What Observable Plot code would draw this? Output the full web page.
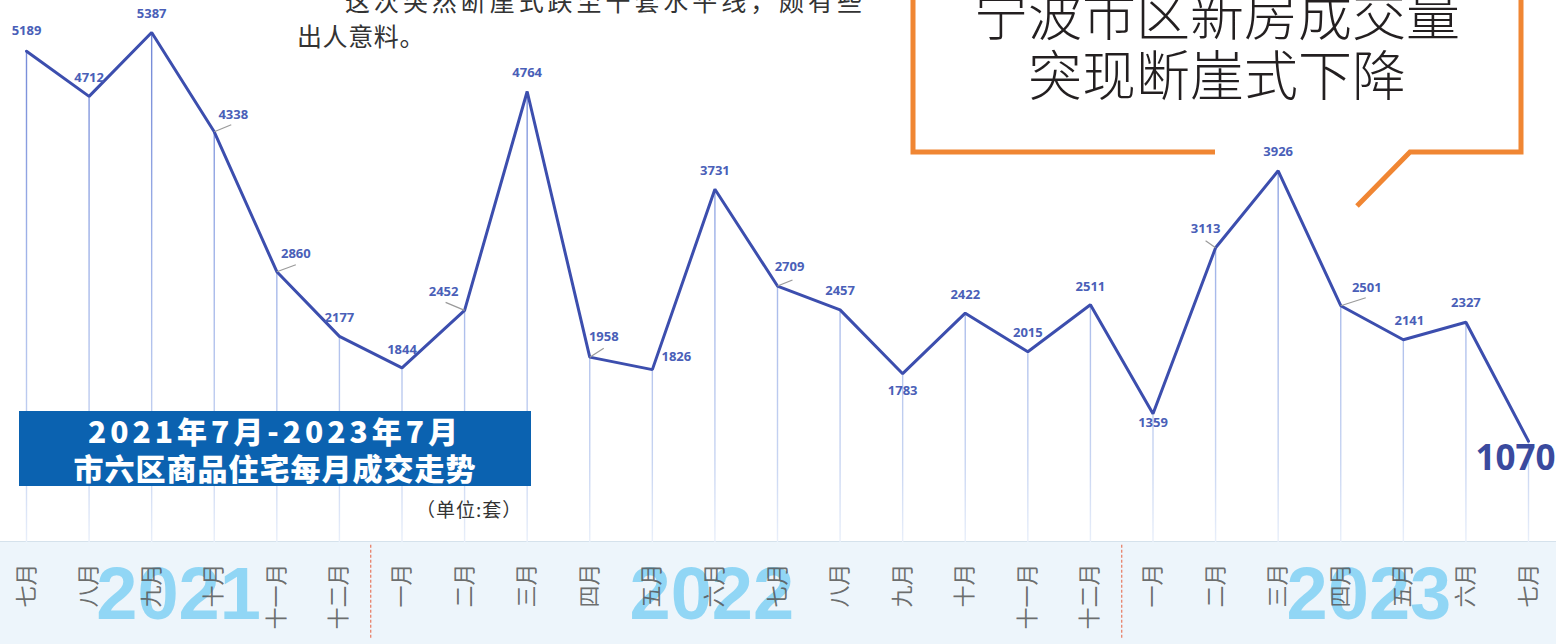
<!DOCTYPE html>
<html>
<head>
<meta charset="utf-8">
<script src="https://cdn.jsdelivr.net/npm/d3@7"></script>
<script src="https://cdn.jsdelivr.net/npm/@observablehq/plot@0.6"></script>
<style>
  html, body { margin: 0; padding: 0; background: #ffffff; }
  #page { position: relative; width: 1556px; height: 644px; overflow: hidden; background: #fff; }
  #band { position: absolute; left: 0; top: 541px; width: 1556px; height: 103px; background: #edf5fb; border-top: 1px solid #d5e2ec; }
  #chart { position: absolute; left: 0; top: 0; }
  #titlebox { position: absolute; left: 19px; top: 411px; width: 512px; height: 75px; background: #0b62b0;
    color: #fff; font-family: "Noto Sans CJK SC", sans-serif; font-weight: 900; font-size: 30px; line-height: 37px;
    text-align: center; padding-top: 1px; box-sizing: border-box; }
  #titlebox .l1 { letter-spacing: 4px; }
  #titlebox .l2 { letter-spacing: 1px; }
  #unit { position: absolute; left: 416px; top: 495px; font-family: "Noto Sans CJK SC", sans-serif; font-size: 19px; color: #333; letter-spacing: 1px; }
  #overlay { position: absolute; left: 0; top: 0; }
</style>
</head>
<body>
<div id="page">
  <div id="band"></div>
  <div id="chart"></div>
  <div id="titlebox"><span class="l1">2021年7月-2023年7月</span><br><span class="l2">市六区商品住宅每月成交走势</span></div>
  <div id="unit">（单位:套）</div>
  <svg id="overlay" width="1556" height="644"></svg>
</div>
<script>
// ---- data ----
const months = ["七月","八月","九月","十月","十一月","十二月",
                "一月","二月","三月","四月","五月","六月","七月","八月","九月","十月","十一月","十二月",
                "一月","二月","三月","四月","五月","六月","七月"];
const sales = [5189,4712,5387,4338,2860,2177,
               1844,2452,4764,1958,1826,3731,2709,2457,1783,2422,2015,2511,
               1359,3113,3926,2501,2141,2327,1070];
const years = ["2021","2022","2023"];
const yearCenter = [2.43, 10.95, 21.45];      // label anchor in month-index units
const splitAt = [5.5, 17.5];                   // year boundaries in month-index units

// ---- label layout (pixel offsets from each point) ----
const labelOffset = [[0,-20],[0,-19],[0,-19],[19,-17],[19,-18],[0,-19],
                     [0,-18],[-21,-19],[0,-19],[14,-20],[24,-13],[0,-18],[12,-19],[0,-19],[0,17],[0,-18],[0,-19],[0,-18],
                     [0,9],[-10,-19],[0,-19],[26,-18],[6,-19],[0,-19],[-13,18]];
const leaderVec = {3:[17,-7],4:[19,-7],7:[-19,-8],9:[14,-9],12:[15,-6],19:[-10,-7],21:[25,-8]};

const W = 1556, H = 644;
const mL = 26, mR = 28, mT = 0, mB = 102;
const yMax = 5725;
const pxPerX = (W - mL - mR) / (sales.length - 1);
const valPerPx = yMax / (H - mT - mB);

const idx = sales.map((d, i) => i);

const valueMarks = idx.map(i => {
  const big = i === sales.length - 1;
  return Plot.text([i], {
    x: d => d, y: d => sales[d], text: d => String(sales[d]),
    dx: labelOffset[i][0], dy: labelOffset[i][1],
    fontSize: big ? 35 : 13, fontWeight: 700,
    fontFamily: "'Open Sans', sans-serif",
    fill: big ? "#3a4a9e" : "#4a5fb8", textAnchor: "middle", lineAnchor: "middle"
  });
});

const leaderData = Object.keys(leaderVec).map(k => +k);
const leaders = Plot.link(leaderData, {
  x1: d => d, y1: d => sales[d],
  x2: d => d + leaderVec[d][0] / pxPerX,
  y2: d => sales[d] - leaderVec[d][1] * valPerPx,
  stroke: "#9a9a9a", strokeWidth: 1.2
});

const chart = Plot.plot({
  width: W, height: H,
  marginLeft: mL, marginRight: mR, marginTop: mT, marginBottom: mB,
  x: {type: "linear", domain: [0, sales.length - 1], axis: null},
  y: {type: "linear", domain: [0, yMax], axis: null},
  style: {background: "transparent", overflow: "visible"},
  marks: [
    Plot.ruleX(idx, {x: d => d, y1: d => sales[d], y2: 0, stroke: "url(#dropGrad)", strokeWidth: 1.4}),
    Plot.ruleX(splitAt, {y1: -30, y2: -1030, stroke: "#e8826a", strokeWidth: 1.3, strokeDasharray: "3,2"}),
    Plot.text(years, {x: (d, i) => yearCenter[i], frameAnchor: "bottom", dy: 53,
      fontSize: 74, fontWeight: 700, fontFamily: "'Liberation Sans', Arial, sans-serif",
      fill: "#86d3f4", fillOpacity: 0.9, textAnchor: "middle", lineAnchor: "middle"}),
    Plot.text(months, {x: (d, i) => i, frameAnchor: "bottom", dy: 21, rotate: -90,
      textAnchor: "end", lineAnchor: "middle", fontSize: 22, fontWeight: 400,
      fontFamily: "'Noto Sans CJK SC', sans-serif", fill: "#555", fillOpacity: 0.85}),
    Plot.line(sales, {x: (d, i) => i, y: d => d, stroke: "#3c4eae", strokeWidth: 3, strokeLinejoin: "miter"}),
    leaders,
    ...valueMarks
  ]
});
document.getElementById("chart").appendChild(chart);

// gradient for the drop lines
const svgEl = chart.tagName.toLowerCase() === "svg" ? chart : chart.querySelector("svg");
const ns = "http://www.w3.org/2000/svg";
const defs = document.createElementNS(ns, "defs");
defs.innerHTML = `<linearGradient id="dropGrad" gradientUnits="userSpaceOnUse" x1="0" y1="0" x2="0" y2="545">
  <stop offset="0" stop-color="#6a80d4"/>
  <stop offset="0.45" stop-color="#9fb2e8"/>
  <stop offset="0.85" stop-color="#c8d5f2"/>
  <stop offset="1" stop-color="#eaf0fa"/>
</linearGradient>`;
svgEl.insertBefore(defs, svgEl.firstChild);

// ---- annotations: callout box and body text ----
const ov = d3.select("#overlay");
ov.append("polyline")
  .attr("points", "1215,152 913,152 913,-10 1521,-10 1521,152 1410,152 1357,206")
  .attr("fill", "none").attr("stroke", "#f08633").attr("stroke-width", 5).attr("stroke-linejoin", "miter");
ov.append("text").attr("x", 1217).attr("y", 36).attr("text-anchor", "middle")
  .attr("font-family", "'Noto Sans CJK SC', sans-serif").attr("font-weight", 300).attr("font-size", 54)
  .attr("fill", "#231f20").text("宁波市区新房成交量");
ov.append("text").attr("x", 1217).attr("y", 96).attr("text-anchor", "middle")
  .attr("font-family", "'Noto Sans CJK SC', sans-serif").attr("font-weight", 300).attr("font-size", 54)
  .attr("fill", "#231f20").text("突现断崖式下降");
ov.append("text").attr("x", 345).attr("y", 11).attr("textLength", 517).attr("lengthAdjust", "spacing")
  .attr("font-family", "'Noto Sans CJK SC', sans-serif").attr("font-size", 25)
  .attr("fill", "#333").text("这次突然断崖式跌至千套水平线，颇有些");
ov.append("text").attr("x", 297).attr("y", 46)
  .attr("font-family", "'Noto Sans CJK SC', sans-serif").attr("font-size", 25).attr("letter-spacing", 0.6)
  .attr("fill", "#333").text("出人意料。");
</script>
</body>
</html>
